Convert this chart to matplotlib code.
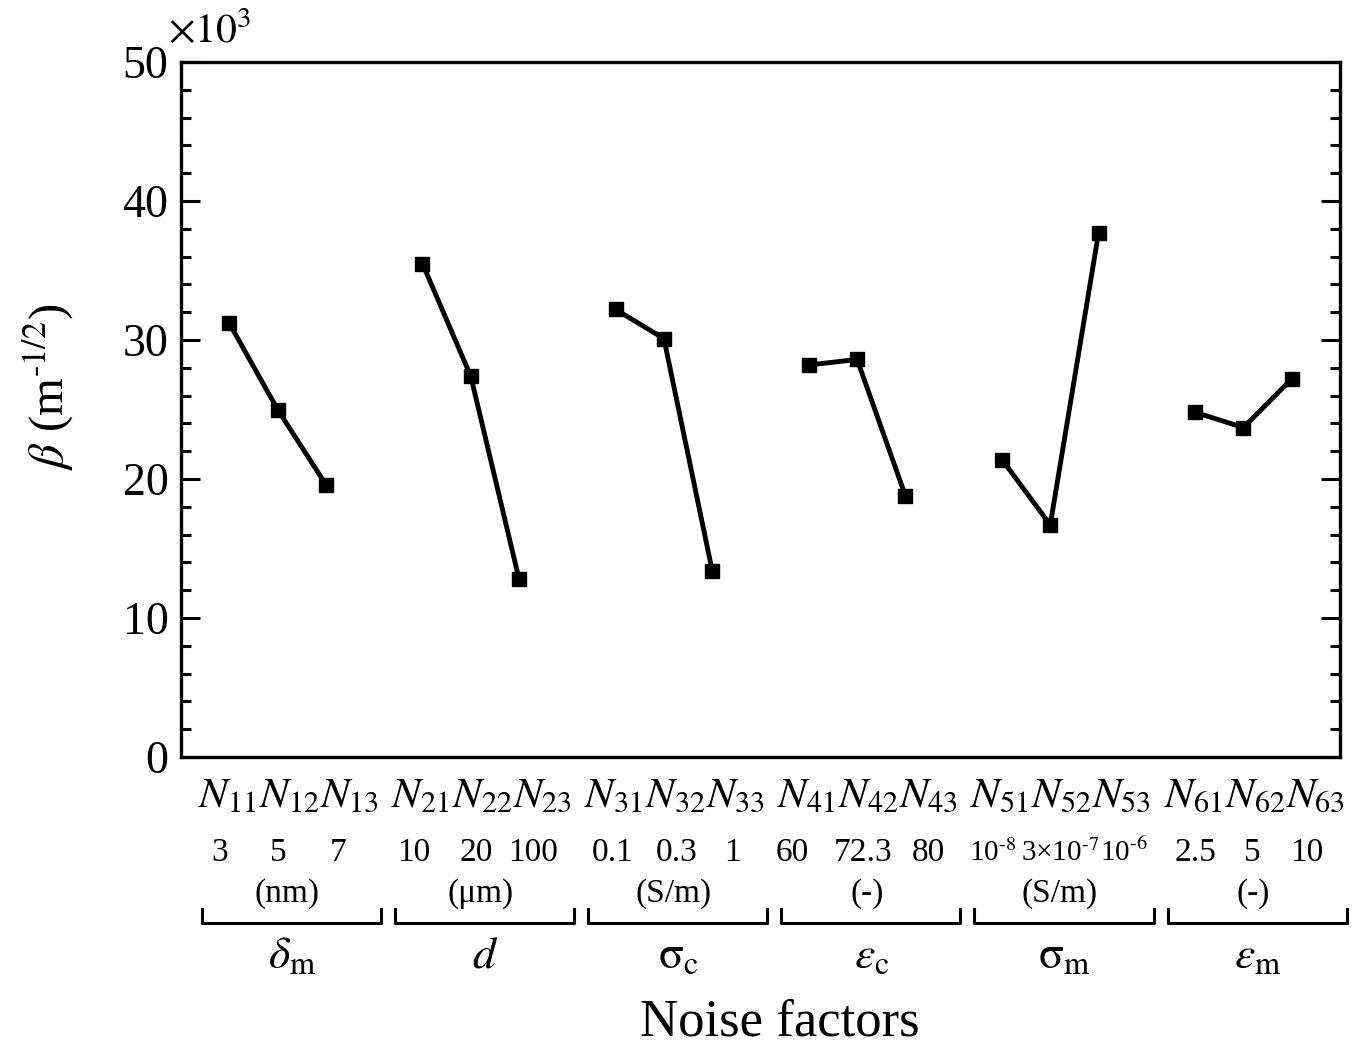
import matplotlib
matplotlib.use("Agg")
import matplotlib.pyplot as plt
from matplotlib.transforms import blended_transform_factory
from matplotlib.lines import Line2D
from matplotlib.ticker import MultipleLocator

plt.rcParams['font.family'] = ['Liberation Serif', 'DejaVu Serif']
plt.rcParams['mathtext.fontset'] = 'stix'

# ---------------- data ----------------
factor_symbols = [r'$\delta_\mathrm{m}$', r'$d$', r'$\mathrm{\sigma}_\mathrm{c}$',
                  r'$\varepsilon_\mathrm{c}$', r'$\mathrm{\sigma}_\mathrm{m}$', r'$\varepsilon_\mathrm{m}$']
level_names = [['N_{%d%d}' % (g, k) for k in (1, 2, 3)] for g in range(1, 7)]
level_values = [['3', '5', '7'],
                ['10', '20', '100'],
                ['0.1', '0.3', '1'],
                ['60', '72.3', '80'],
                [r'10$^{\text{-8}}$', r'3×10$^{\text{-7}}$', r'10$^{\text{-6}}$'],
                ['2.5', '5', '10']]
units = ['(nm)', '(μm)', '(S/m)', '(-)', '(S/m)', '(-)']
beta = [[31.2, 25.0, 19.6],
        [35.5, 27.4, 12.8],
        [32.2, 30.1, 13.4],
        [28.2, 28.6, 18.8],
        [21.4, 16.7, 37.7],
        [24.8, 23.7, 27.2]]
y_major_ticks = [0, 10, 20, 30, 40, 50]

# ---------------- layout (x offsets of value labels, in axis units) ----------------
value_offsets = [[-1.19, 0.01, 1.25],
                 [-1.18, 0.11, 1.29],
                 [-1.07, 0.27, 1.41],
                 [-1.35, 0.12, 1.47],
                 [-1.20, 0.20, 1.52],
                 [-1.00, 0.18, 1.32]]
value_fontsizes = [24, 24, 24, 24, 21, 24]

# ---------------- figure ----------------
W, H = 1356, 1045
fig = plt.figure(figsize=(W / 100, H / 100), dpi=100)
ax = fig.add_axes([181 / W, 1 - 757 / H, (1340 - 181) / W, (757 - 62) / H])

for g, vals in enumerate(beta):
    xs = [4 * g + 1 + k for k in range(3)]
    ax.plot(xs, vals, color='black', lw=3.5, marker='s', ms=10, mec='black', mfc='black')

ax.set_xlim(0, 24)
ax.set_ylim(0, 50)
ax.set_yticks(y_major_ticks)
ax.set_yticklabels([str(t) for t in y_major_ticks])
ax.yaxis.set_minor_locator(MultipleLocator(2))
ax.set_xticks([])
ax.tick_params(axis='y', which='both', direction='in', left=True, right=True, labelsize=33, pad=9)
ax.tick_params(axis='y', which='major', length=14, width=2.2)
ax.tick_params(axis='y', which='minor', length=7, width=2.2)
for s in ax.spines.values():
    s.set_linewidth(2.4)

tr = blended_transform_factory(ax.transData, fig.transFigure)

def fy(px):
    return 1 - px / H

for g in range(6):
    c = 4 * g + 2
    ax.text(c + 0.22, fy(807), '$' + ''.join(level_names[g]) + '$', transform=tr,
            ha='center', va='baseline', fontsize=31)
    for k in range(3):
        ax.text(c + value_offsets[g][k], fy(861), level_values[g][k], transform=tr, ha='center',
                va='baseline', fontsize=value_fontsizes[g])
    ax.text(c + 0.2, fy(902), units[g], transform=tr, ha='center', va='baseline', fontsize=24)
    line = Line2D([c - 1.57, c - 1.57, c + 2.14, c + 2.14], [fy(909), fy(923), fy(923), fy(909)],
                  transform=tr, color='black', lw=2.2, clip_on=False)
    fig.add_artist(line)
    ax.text(c + 0.3, fy(968), factor_symbols[g], transform=tr, ha='center', va='baseline',
            fontsize=33)

fig.text((637 + 922) / 2 / W, fy(1036), 'Noise factors', ha='center', va='baseline', fontsize=38)
fig.text(168 / W, fy(42), r'$\times 10^3$', ha='left', va='baseline', fontsize=30)
fig.text(48 / W, fy(387), r'$\beta$ (m$^{\text{-1/2}}$)', rotation=90,
         ha='center', va='center', fontsize=35)

fig.savefig('out.png', dpi=100)
